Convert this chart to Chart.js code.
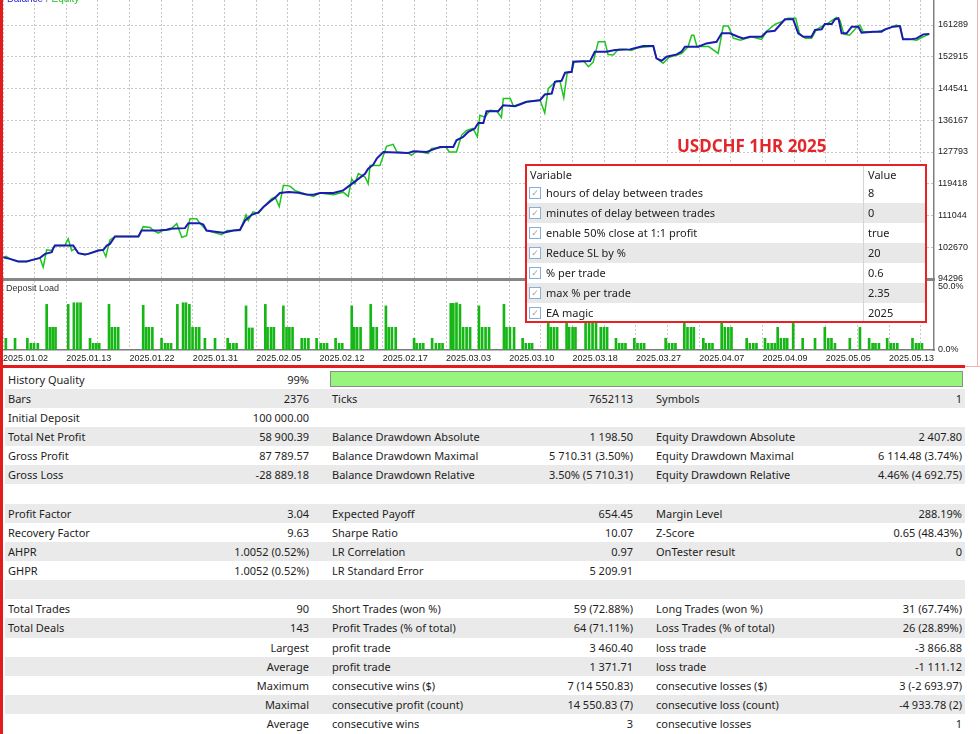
<!DOCTYPE html>
<html>
<head>
<meta charset="utf-8">
<script src="https://cdn.jsdelivr.net/npm/chart.js@4.4.1/dist/chart.umd.min.js"></script>
<style>
  html, body { margin: 0; padding: 0; background: #fff; }
  body { width: 980px; height: 734px; position: relative; overflow: hidden; font-family: "Noto Sans", sans-serif; }
  canvas { position: absolute; left: 0; }
  #mainChart { top: 0; }
  #loadChart { top: 281px; }
  .legend { position: absolute; left: 7px; top: -7px; font: 10px "Liberation Sans", sans-serif; color: #777; }
  .legend .b { color: #2b2bd8; }
  .legend .e { color: #22c022; }
  .panelLabel { position: absolute; left: 6px; top: 283px; font: 9px "Liberation Sans", sans-serif; color: #333; }
  .title { position: absolute; left: 677px; top: 136px; font: bold 17px "Noto Sans", sans-serif; line-height: 20px; color: #e3262b; white-space: nowrap; }
  #params { position: absolute; left: 525px; top: 164px; width: 402px; height: 159px; box-sizing: border-box;
            border: 2px solid #e62222; background: #fff; overflow: hidden; font-size: 11px; color: #222; }
  #params .row { position: absolute; left: 0; width: 398px; height: 20px; line-height: 20px; }
  #params .row.alt { background: #e8e8e8; }
  #params .name { position: absolute; left: 19px; white-space: nowrap; }
  #params .val { position: absolute; left: 341px; white-space: nowrap; }
  #params .sep { position: absolute; left: 336px; top: 0; width: 1px; height: 100%; background: #d4d4d4; }
  #params .cb { position: absolute; left: 2px; top: 4px; width: 12px; height: 12px; box-sizing: border-box;
                border: 1px solid #86aede; background: #fff; font: 9px "DejaVu Sans", sans-serif; line-height: 10px;
                color: #a0a0a0; text-align: center; }
  #stats { position: absolute; left: 5px; top: 369.5px; width: 960px; height: 365px; font-size: 11px; color: #1e1e1e; }
  #stats .row { position: absolute; left: 0; width: 960px; height: 19.15px; line-height: 19.15px; }
  #stats .row.alt { background: #eaeaea; }
  #stats span { position: absolute; top: 0; white-space: nowrap; }
  #stats .l1 { left: 3px; }
  #stats .v1 { left: 0; width: 304px; text-align: right; }
  #stats .l2 { left: 327px; }
  #stats .v2 { left: 0; width: 628px; text-align: right; }
  #stats .l3 { left: 651px; }
  #stats .v3 { left: 0; width: 957px; text-align: right; }
  #stats .quality { position: absolute; left: 325px; top: 1.5px; width: 633px; height: 16px; box-sizing: border-box;
                    border: 1px solid #8c8c8c; background: #98f47c; }
  .redV { position: absolute; left: 0; top: 0; width: 3px; height: 734px; background: #e41b1b; }
  .redH { position: absolute; left: 0; top: 365px; width: 965px; height: 3px; background: #e41b1b; }
  .pinkV { position: absolute; left: 977px; top: 0; width: 1px; height: 367px; background: #f2b3b3; }
  .pinkH { position: absolute; left: 965px; top: 366px; width: 15px; height: 1px; background: #f2b3b3; }
</style>
</head>
<body>
<canvas id="mainChart" width="980" height="281"></canvas>
<canvas id="loadChart" width="980" height="87"></canvas>
<div class="legend"><span class="b">Balance</span> / <span class="e">Equity</span></div>
<div class="panelLabel">Deposit Load</div>
<div class="title">USDCHF 1HR 2025</div>
<div id="params"></div>
<div id="stats"></div>
<div class="redV"></div>
<div class="redH"></div>
<div class="pinkV"></div>
<div class="pinkH"></div>

<script>
// x runs in grid units: 10 units per dotted grid column
const dateLabels = ['2025.01.02', '2025.01.13', '2025.01.22', '2025.01.31', '2025.02.05', '2025.02.12',
  '2025.02.17', '2025.03.03', '2025.03.10', '2025.03.18', '2025.03.27', '2025.04.07', '2025.04.09',
  '2025.05.05', '2025.05.13'];
const yTicks = [94296, 102670, 111044, 119418, 127793, 136167, 144541, 152915, 161289];
const loadTicks = [0, 50];

const balanceX = [0.1, 2.2, 4.8, 7.5, 9.6, 11.7, 13.3, 15.4, 15.9, 16.4, 22.2, 23.8, 25.9, 27.0, 30.1, 31.7,
  32.8, 33.8, 35.4, 42.8, 43.8, 49.1, 51.7, 52.8, 57.5, 58.6, 62.2, 63.3, 64.3, 66.5, 69.6, 72.8, 74.9, 76.5,
  78.6, 80.7, 82.3, 84.4, 85.9, 87.5, 90.2, 93.3, 95.9, 98.1, 100.2, 104.4, 107.5, 109.6, 111.7, 114.4, 115.4,
  117.0, 118.1, 120.2, 128.1, 129.7, 133.9, 136.0, 138.1, 142.3, 143.3, 145.4, 147.0, 149.1, 150.2, 151.8,
  152.8, 156.5, 158.1, 161.8, 163.3, 165.5, 169.7, 171.2, 173.4, 174.4, 176.5, 177.6, 179.7, 180.2, 185.5,
  187.0, 190.7, 193.4, 198.1, 200.2, 202.3, 205.5, 206.5, 208.1, 209.7, 212.9, 214.4, 215.5, 219.7, 222.3,
  225.5, 227.1, 229.7, 232.3, 233.9, 236.0, 239.7, 241.3, 243.9, 245.5, 247.1, 249.7, 251.3, 252.9, 255.5,
  256.6, 258.7, 259.7, 261.9, 262.9, 264.0, 265.0, 266.6, 268.2, 270.3, 271.3, 275.0, 277.6, 278.7, 281.3,
  283.4, 284.4, 286.6, 288.7, 290.8, 292.7];
const balanceY = [100000, 99600, 98900, 98900, 99400, 99860, 100920, 101360, 102420, 103120, 103120, 101100,
  100740, 100920, 101800, 101980, 103120, 103560, 105500, 105500, 107090, 107090, 107270, 107530, 107710,
  109030, 109030, 108680, 107090, 106830, 106470, 107090, 107270, 109730, 111230, 111850, 113260, 114760,
  115640, 116960, 117220, 117050, 116610, 116520, 116960, 116960, 117670, 118990, 120310, 122070, 123390,
  124450, 126040, 127800, 127540, 127980, 127800, 128500, 129120, 129120, 130880, 131770, 133090, 133970,
  135470, 135470, 138550, 138550, 140140, 139870, 140310, 141020, 141460, 142960, 143220, 146310, 146570,
  148690, 148950, 151600, 151770, 154240, 154240, 154680, 154860, 155300, 155740, 155740, 152480, 151860,
  152920, 153530, 154240, 155560, 155560, 156440, 156880, 159090, 159090, 158200, 157760, 158200, 158200,
  159530, 159790, 161290, 162790, 162790, 159090, 158200, 158200, 159970, 160140, 161550, 161550, 162790,
  163050, 159090, 159090, 160850, 160850, 159260, 159530, 159530, 160140, 160850, 161030, 157500, 157500,
  157760, 158820, 158900];

const equityX = [0.1, 1.0, 2.2, 4.8, 7.5, 9.6, 11.7, 12.7, 13.8, 15.4, 16.4, 19.5, 20.6, 21.7, 22.8, 23.8,
  25.9, 28.0, 30.1, 31.5, 32.5, 33.8, 35.4, 42.8, 44.3, 46.5, 47.5, 49.1, 50.5, 52.8, 54.9, 56.5, 58.0, 59.1,
  61.2, 62.2, 64.3, 69.1, 70.8, 74.9, 76.8, 77.5, 79.0, 80.7, 82.3, 83.4, 84.9, 86.0, 87.3, 88.6, 90.7, 92.3,
  95.5, 98.1, 100.2, 104.4, 107.5, 109.1, 110.2, 111.2, 112.3, 114.4, 115.4, 116.0, 119.1, 121.2, 123.3,
  124.5, 128.1, 129.1, 130.7, 134.4, 135.4, 140.0, 141.0, 143.3, 144.9, 146.5, 148.5, 149.9, 150.7, 152.3,
  153.9, 156.0, 157.5, 158.1, 160.3, 161.3, 165.0, 169.7, 171.2, 172.3, 174.9, 176.0, 177.2, 178.3, 179.7,
  180.5, 183.5, 185.0, 186.5, 188.1, 190.2, 191.2, 192.8, 194.5, 197.0, 198.5, 200.5, 205.5, 206.5, 208.6,
  210.5, 213.0, 214.5, 216.5, 217.6, 218.3, 219.3, 223.0, 226.0, 227.6, 229.2, 230.8, 233.0, 236.5, 239.7,
  241.5, 244.0, 246.5, 248.1, 250.5, 251.7, 253.5, 255.5, 257.0, 259.5, 261.0, 263.4, 264.5, 265.7, 267.5,
  270.0, 270.8, 271.8, 276.0, 278.7, 282.3, 283.6, 284.4, 286.6, 288.7, 290.3, 292.7];
const equityY = [100000, 100300, 99600, 98900, 98900, 99400, 99800, 97400, 102000, 101800, 103100, 103100,
  104900, 101800, 102300, 101100, 100700, 101200, 101800, 102000, 100200, 104600, 105500, 105500, 108100,
  107900, 107100, 106400, 107100, 107300, 108900, 105300, 105700, 110200, 110200, 109000, 107100, 106000,
  107100, 107100, 111200, 109700, 112000, 111600, 113300, 114200, 115500, 115900, 113400, 119000, 118800,
  117600, 116700, 116100, 117000, 116500, 117200, 116100, 120700, 119400, 122100, 121200, 119400, 124200,
  124200, 129300, 129800, 127800, 127500, 126900, 128000, 127400, 128700, 129100, 127800, 127800, 132200,
  133500, 134000, 131800, 137500, 137000, 138800, 138600, 136900, 141900, 141900, 139900, 141000, 141500,
  138100, 144500, 146600, 146500, 142100, 148700, 148900, 151600, 151800, 150300, 151500, 156900, 156900,
  153500, 153400, 154900, 154900, 154600, 155300, 155700, 152500, 151200, 152800, 153400, 153800, 155600,
  158600, 158600, 155600, 155600, 153800, 161000, 161000, 157800, 157300, 158200, 157500, 159800, 161500,
  162300, 163100, 163100, 159000, 157800, 157800, 160000, 161300, 161900, 163300, 162500, 158900, 158600,
  160900, 161300, 159500, 159500, 160000, 161300, 160900, 157500, 157500, 157300, 158000, 158900];

const loadX = [0.9, 3.8, 7.7, 8.8, 9.8, 11.0, 13.8, 14.8, 15.7, 16.6, 20.6, 22.4, 23.5, 24.5, 27.5, 28.5,
  29.5, 30.4, 33.5, 34.4, 35.4, 36.4, 44.3, 45.2, 46.1, 47.2, 50.1, 51.2, 52.1, 53.1, 55.1, 56.9, 57.8, 58.9,
  59.9, 61.0, 62.0, 63.8, 67.0, 71.0, 71.7, 72.8, 73.8, 76.8, 77.8, 78.8, 82.9, 83.6, 84.7, 85.6, 88.6, 89.6,
  90.5, 91.5, 94.4, 95.4, 96.5, 99.1, 100.4, 101.4, 102.4, 105.1, 106.2, 107.2, 110.2, 111.0, 111.9, 113.0,
  116.2, 117.0, 118.1, 121.0, 121.9, 122.9, 124.1, 129.9, 130.7, 131.8, 132.8, 135.6, 136.8, 137.9, 138.9,
  141.5, 142.3, 143.3, 144.4, 145.4, 146.5, 147.6, 150.4, 151.4, 152.5, 153.6, 158.3, 159.1, 160.2, 161.5,
  164.2, 165.2, 166.3, 167.2, 172.3, 173.1, 174.1, 175.1, 178.1, 178.9, 180.0, 180.9, 184.1, 185.2, 186.3,
  187.4, 188.9, 189.9, 190.9, 193.7, 194.7, 195.7, 196.7, 199.5, 200.5, 201.6, 202.6, 209.4, 210.4, 211.5,
  212.5, 215.3, 216.3, 217.4, 218.3, 221.3, 222.1, 223.2, 224.2, 227.1, 228.1, 229.2, 230.2, 235.0, 236.0,
  237.1, 238.1, 240.8, 241.8, 242.9, 243.9, 244.8, 245.8, 246.9, 247.8, 249.7, 252.7, 256.6, 259.7, 260.8,
  261.8, 262.9, 267.6, 270.8, 273.7, 274.8, 275.7, 276.8, 279.4, 280.5, 281.5, 282.6, 287.4, 288.5, 289.4,
  290.4];
const loadY = [9.3, 9.3, 9.3, 5.3, 5.3, 5.3, 36.2, 18, 18, 18, 36.2, 37.5, 37.5, 37.5, 9.3, 5.3,
  5.3, 5.3, 36.2, 18, 18, 18, 35.5, 18, 18, 18, 9.3, 5.3, 5.3, 5.3, 36.2, 37.5, 37.5, 36.2,
  18, 18, 18, 9.3, 9.3, 9.3, 5.3, 5.3, 5.3, 35, 17.5, 17.5, 36.2, 18, 18, 18, 35, 18,
  18, 18, 9.3, 9.3, 9.3, 9.3, 5.3, 5.3, 5.3, 9.3, 5.3, 5.3, 35, 18, 18, 18,
  36.2, 18, 18, 35, 18, 18, 18, 9.3, 5.3, 5.3, 5.3, 9.3, 5.3, 5.3, 5.3,
  37, 37, 37.5, 36.2, 18, 18, 18, 35, 18, 18, 18, 36.2, 18, 18, 18,
  9.3, 5.3, 5.3, 5.3, 36, 18, 18, 18, 36, 18, 18, 18, 37, 37, 37,
  36, 18, 18, 18, 9.3, 5.3, 5.3, 5.3, 9.3, 5.3, 5.3, 5.3, 9.3, 5.3, 5.3,
  5.3, 36, 18, 18, 18, 9.3, 5.3, 5.3, 5.3, 36, 18, 18, 18, 9.3, 5.3,
  5.3, 5.3, 9.3, 5.3, 5.3, 5.3, 18, 9.3, 9.3, 9.3, 36, 9.3, 9.3, 18, 9.3,
  9.3, 5.3, 9.3, 18, 9.3, 5.3, 5.3, 5.3, 9.3, 5.3, 5.3, 5.3, 9.3, 5.3, 5.3,
  5.3];

const paramNames = ['hours of delay between trades', 'minutes of delay between trades',
  'enable 50% close at 1:1 profit', 'Reduce SL by %', '% per trade', 'max % per trade', 'EA magic'];
const paramValues = ['8', '0', 'true', '20', '0.6', '2.35', '2025'];

const statRows = [
  ['History Quality', '99%', '', '', '', ''],
  ['Bars', '2376', 'Ticks', '7652113', 'Symbols', '1'],
  ['Initial Deposit', '100 000.00', '', '', '', ''],
  ['Total Net Profit', '58 900.39', 'Balance Drawdown Absolute', '1 198.50', 'Equity Drawdown Absolute', '2 407.80'],
  ['Gross Profit', '87 789.57', 'Balance Drawdown Maximal', '5 710.31 (3.50%)', 'Equity Drawdown Maximal', '6 114.48 (3.74%)'],
  ['Gross Loss', '-28 889.18', 'Balance Drawdown Relative', '3.50% (5 710.31)', 'Equity Drawdown Relative', '4.46% (4 692.75)'],
  ['', '', '', '', '', ''],
  ['Profit Factor', '3.04', 'Expected Payoff', '654.45', 'Margin Level', '288.19%'],
  ['Recovery Factor', '9.63', 'Sharpe Ratio', '10.07', 'Z-Score', '0.65 (48.43%)'],
  ['AHPR', '1.0052 (0.52%)', 'LR Correlation', '0.97', 'OnTester result', '0'],
  ['GHPR', '1.0052 (0.52%)', 'LR Standard Error', '5 209.91', '', ''],
  ['', '', '', '', '', ''],
  ['Total Trades', '90', 'Short Trades (won %)', '59 (72.88%)', 'Long Trades (won %)', '31 (67.74%)'],
  ['Total Deals', '143', 'Profit Trades (% of total)', '64 (71.11%)', 'Loss Trades (% of total)', '26 (28.89%)'],
  ['', 'Largest', 'profit trade', '3 460.40', 'loss trade', '-3 866.88'],
  ['', 'Average', 'profit trade', '1 371.71', 'loss trade', '-1 111.12'],
  ['', 'Maximum', 'consecutive wins ($)', '7 (14 550.83)', 'consecutive losses ($)', '3 (-2 693.97)'],
  ['', 'Maximal', 'consecutive profit (count)', '14 550.83 (7)', 'consecutive loss (count)', '-4 933.78 (2)'],
  ['', 'Average', 'consecutive wins', '3', 'consecutive losses', '1']
];

// grid columns every 10 units
const gridSteps = [];
for (let v = 0; v <= 290; v += 10) gridSteps.push(v);

const gridCol = '#c8c8c8';
Chart.defaults.font.family = '"Liberation Sans", sans-serif';
Chart.defaults.font.size = 9;
Chart.defaults.color = '#222';

function noPad(a) {
  a.paddingLeft = 0; a.paddingRight = 0; a.paddingTop = 0; a.paddingBottom = 0;
}

function xScale(extra) {
  return Object.assign({
    type: 'linear',
    min: 0,
    max: 294.2,
    offset: false,
    afterBuildTicks: a => { a.ticks = gridSteps.map(v => ({ value: v })); },
    grid: { color: gridCol, drawTicks: false, offset: false }
  }, extra);
}

function yScale(min, max, tickList, fmt) {
  return {
    position: 'right',
    min: min,
    max: max,
    afterBuildTicks: a => { a.ticks = tickList.map(v => ({ value: v })); },
    afterFit: a => { a.width = 46; noPad(a); },
    ticks: { padding: 4, callback: fmt },
    grid: { color: gridCol, drawTicks: false },
    border: { color: '#808080', width: 1.5, dash: [2, 2] }
  };
}

const toPoints = (xs, ys) => xs.map((x, i) => ({ x: x, y: ys[i] }));

new Chart(document.getElementById('mainChart'), {
  type: 'line',
  data: {
    datasets: [{
      label: 'Balance',
      data: toPoints(balanceX, balanceY),
      borderColor: '#1b1bb2',
      borderWidth: 2,
      pointRadius: 0,
      tension: 0,
      order: 0
    }, {
      label: 'Equity',
      data: toPoints(equityX, equityY),
      borderColor: '#1fc41f',
      borderWidth: 1.5,
      pointRadius: 0,
      tension: 0,
      order: 1
    }]
  },
  options: {
    responsive: false,
    animation: false,
    layout: { padding: { left: 3, top: 0, right: 0, bottom: 2 } },
    plugins: { legend: { display: false }, tooltip: { enabled: false } },
    scales: {
      x: xScale({
        afterFit: a => { a.height = 0; noPad(a); },
        ticks: { display: false },
        border: { color: '#868686', width: 3, dash: [2, 2] }
      }),
      y: yScale(94296, 167884, yTicks, v => String(v))
    }
  }
});

const loadY_axis = yScale(0, 54.76, loadTicks, v => v.toFixed(1) + '%');
loadY_axis.grid = { color: 'transparent', drawTicks: false };

new Chart(document.getElementById('loadChart'), {
  type: 'bar',
  data: {
    datasets: [{
      label: 'Deposit Load',
      data: toPoints(loadX, loadY),
      backgroundColor: '#15b615',
      borderWidth: 0,
      barThickness: 2
    }]
  },
  options: {
    responsive: false,
    animation: false,
    layout: { padding: { left: 3, top: 0, right: 0, bottom: 0 } },
    plugins: { legend: { display: false }, tooltip: { enabled: false } },
    scales: {
      x: xScale({
        afterFit: a => { a.height = 18; noPad(a); },
        ticks: {
          autoSkip: false, maxRotation: 0, minRotation: 0, align: 'start', padding: 3,
          callback: v => (v % 20 === 0 ? dateLabels[v / 20] : '')
        },
        border: { color: '#7a7a7a', width: 1.5, dash: [2, 2] }
      }),
      y: loadY_axis
    }
  }
});

// parameter box
const params = document.getElementById('params');
let html = '<div class="row" style="top:0;height:17px;line-height:17px"><span style="position:absolute;left:3px">Variable</span>' +
  '<span class="val">Value</span><div class="sep"></div></div>';
paramNames.forEach((name, i) => {
  html += '<div class="row' + (i % 2 ? ' alt' : '') + '" style="top:' + (17 + i * 20) + 'px">' +
    '<span class="cb">✓</span><span class="name">' + name + '</span><div class="sep"></div>' +
    '<span class="val">' + paramValues[i] + '</span></div>';
});
params.innerHTML = html;

// report table
const stats = document.getElementById('stats');
let rows = '';
statRows.forEach((r, i) => {
  rows += '<div class="row' + (i % 2 ? ' alt' : '') + '" style="top:' + (i * 19.15).toFixed(2) + 'px">' +
    '<span class="l1">' + r[0] + '</span><span class="v1">' + r[1] + '</span>' +
    (i === 0 ? '<div class="quality"></div>' : '') +
    '<span class="l2">' + r[2] + '</span><span class="v2">' + r[3] + '</span>' +
    '<span class="l3">' + r[4] + '</span><span class="v3">' + r[5] + '</span></div>';
});
stats.innerHTML = rows;
</script>
</body>
</html>
